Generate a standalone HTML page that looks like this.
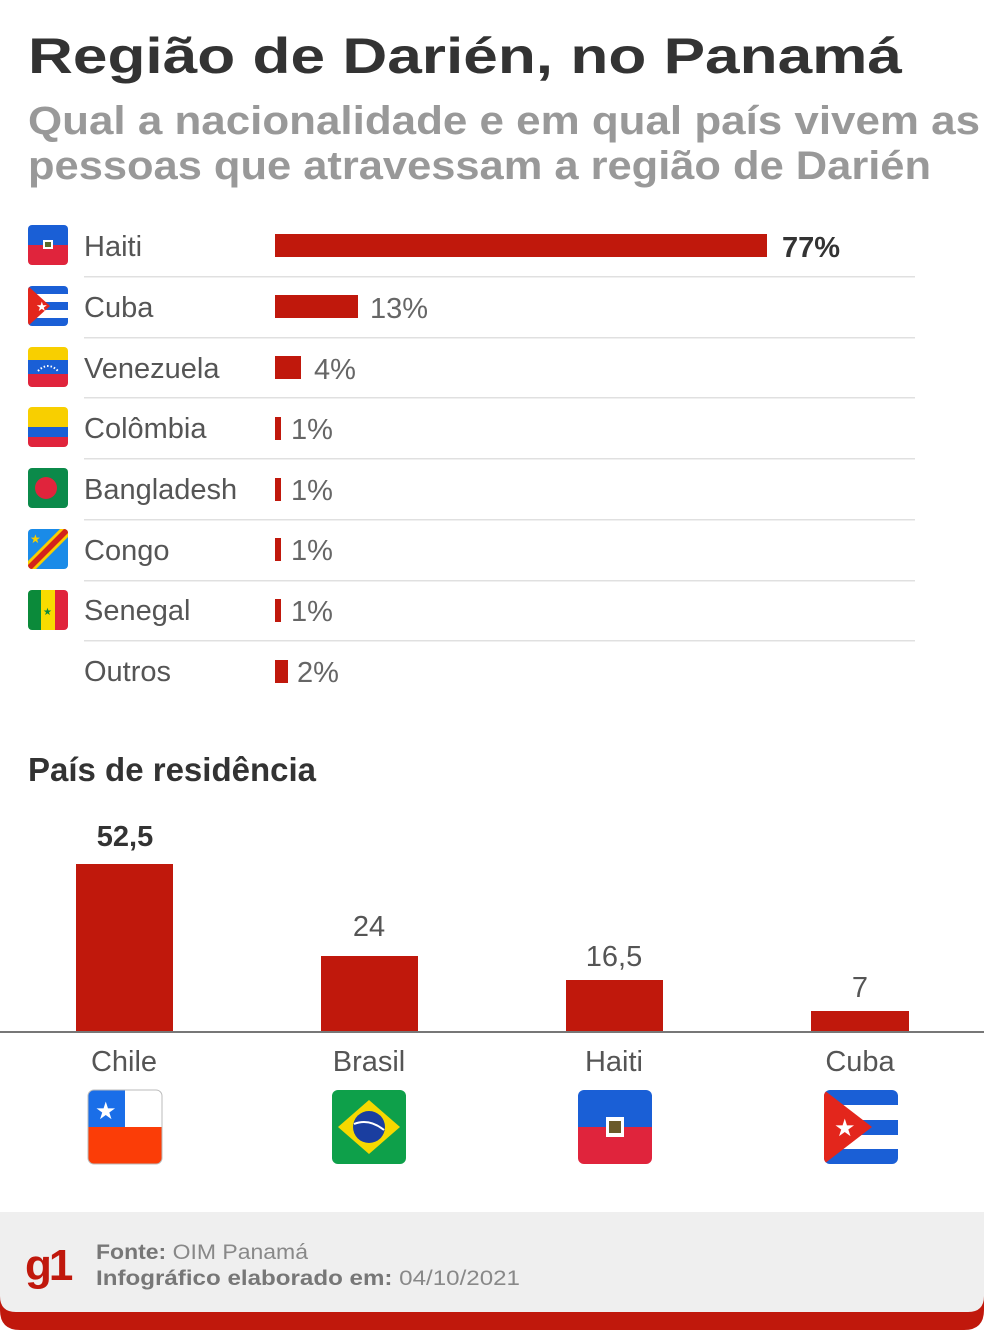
<!DOCTYPE html>
<html><head><meta charset="utf-8"><style>
html,body{margin:0;padding:0;background:#fff;}
svg{display:block;}
text{font-family:"Liberation Sans","DejaVu Sans",sans-serif;}
</style></head><body>
<svg width="984" height="1340" viewBox="0 0 984 1340" xmlns="http://www.w3.org/2000/svg">
<defs>
<clipPath id="fc"><rect x="0" y="0" width="40" height="40" rx="4"/></clipPath>
<clipPath id="bc"><rect x="0" y="0" width="74" height="74" rx="6"/></clipPath>
<g id="haiti"><g clip-path="url(#fc)"><rect width="40" height="20" fill="#1a5fd6"/><rect y="20" width="40" height="20" fill="#e0243c"/><rect x="15" y="15" width="10" height="9" fill="#fff"/><rect x="17" y="17" width="6" height="5" fill="#5a6b2a"/></g></g>
<g id="cuba"><g clip-path="url(#fc)"><rect width="40" height="40" fill="#fff"/><rect width="40" height="8" fill="#1a5fd6"/><rect y="16" width="40" height="8" fill="#1a5fd6"/><rect y="32" width="40" height="8" fill="#1a5fd6"/><polygon points="0,0 22,20 0,40" fill="#e3261c"/><text x="8" y="25" font-size="13" fill="#fff">★</text></g></g>
<g id="ven"><g clip-path="url(#fc)"><rect width="40" height="14" fill="#f8cf00"/><rect y="13" width="40" height="14" fill="#1a5fd6"/><rect y="27" width="40" height="13" fill="#e0243c"/><path d="M10 24 Q20 14 30 24" fill="none" stroke="#fff" stroke-width="2" stroke-dasharray="1.5 2"/></g></g>
<g id="col"><g clip-path="url(#fc)"><rect width="40" height="20" fill="#f8cf00"/><rect y="20" width="40" height="10" fill="#1a5fd6"/><rect y="30" width="40" height="10" fill="#e0243c"/></g></g>
<g id="ban"><g clip-path="url(#fc)"><rect width="40" height="40" fill="#0b8a4a"/><circle cx="18" cy="20" r="11" fill="#e0243c"/></g></g>
<g id="congo"><g clip-path="url(#fc)"><rect width="40" height="40" fill="#1a8be8"/><polygon points="0,40 0,32 32,0 40,0 40,8 8,40" fill="#f8cf00"/><polygon points="0,40 0,36 36,0 40,0 40,4 4,40" fill="#d3231c"/><text x="2" y="14" font-size="12" fill="#f8cf00">★</text></g></g>
<g id="sen"><g clip-path="url(#fc)"><rect width="14" height="40" fill="#0b8a3a"/><rect x="13" width="14" height="40" fill="#f8dc00"/><rect x="27" width="13" height="40" fill="#e0243c"/><text x="15" y="25" font-size="10" fill="#0b8a3a">★</text></g></g>
</defs>

<text x="28" y="73" font-size="50" font-weight="bold" fill="#333" textLength="874" lengthAdjust="spacingAndGlyphs">Região de Darién, no Panamá</text>
<text x="28" y="134" font-size="40" font-weight="bold" fill="#999" textLength="952" lengthAdjust="spacingAndGlyphs">Qual a nacionalidade e em qual país vivem as</text>
<text x="28" y="179" font-size="40" font-weight="bold" fill="#999" textLength="903" lengthAdjust="spacingAndGlyphs">pessoas que atravessam a região de Darién</text>

<g fill="#e0e0e0">
<rect x="84" y="276" width="831" height="1.5"/><rect x="84" y="337" width="831" height="1.5"/><rect x="84" y="397" width="831" height="1.5"/><rect x="84" y="458" width="831" height="1.5"/><rect x="84" y="519" width="831" height="1.5"/><rect x="84" y="580" width="831" height="1.5"/><rect x="84" y="640" width="831" height="1.5"/>
</g>

<use href="#haiti" x="28" y="225"/>
<use href="#cuba" x="28" y="286"/>
<use href="#ven" x="28" y="347"/>
<use href="#col" x="28" y="407"/>
<use href="#ban" x="28" y="468"/>
<use href="#congo" x="28" y="529"/>
<use href="#sen" x="28" y="590"/>

<g font-size="29" fill="#555">
<text x="84" y="256">Haiti</text>
<text x="84" y="317">Cuba</text>
<text x="84" y="378">Venezuela</text>
<text x="84" y="438">Colômbia</text>
<text x="84" y="499">Bangladesh</text>
<text x="84" y="560">Congo</text>
<text x="84" y="620">Senegal</text>
<text x="84" y="681">Outros</text>
</g>
<g fill="#c0180c">
<rect x="275" y="234" width="492" height="23"/>
<rect x="275" y="295" width="83" height="23"/>
<rect x="275" y="356" width="26" height="23"/>
<rect x="275" y="417" width="6" height="23"/>
<rect x="275" y="478" width="6" height="23"/>
<rect x="275" y="538" width="6" height="23"/>
<rect x="275" y="599" width="6" height="23"/>
<rect x="275" y="660" width="13" height="23"/>
</g>
<text x="782" y="257" font-size="29" font-weight="bold" fill="#333">77%</text>
<g font-size="29" fill="#666">
<text x="370" y="318">13%</text>
<text x="314" y="379">4%</text>
<text x="291" y="439">1%</text>
<text x="291" y="500">1%</text>
<text x="291" y="560">1%</text>
<text x="291" y="621">1%</text>
<text x="297" y="682">2%</text>
</g>

<text x="28" y="781" font-size="33" font-weight="bold" fill="#333">País de residência</text>

<g fill="#c0180c">
<rect x="76" y="864" width="97" height="168"/>
<rect x="321" y="956" width="97" height="76"/>
<rect x="566" y="980" width="97" height="52"/>
<rect x="811" y="1011" width="98" height="21"/>
</g>
<rect x="0" y="1031" width="984" height="2" fill="#777"/>
<text x="125" y="846" font-size="29" font-weight="bold" fill="#333" text-anchor="middle">52,5</text>
<g font-size="29" fill="#555" text-anchor="middle">
<text x="369" y="936">24</text>
<text x="614" y="966">16,5</text>
<text x="860" y="997">7</text>
<text x="124" y="1071">Chile</text>
<text x="369" y="1071">Brasil</text>
<text x="614" y="1071">Haiti</text>
<text x="860" y="1071">Cuba</text>
</g>

<g transform="translate(88,1090)"><g clip-path="url(#bc)"><rect width="74" height="74" fill="#fff"/><rect width="37" height="37" fill="#1a6ee8"/><rect y="37" width="74" height="37" fill="#fb3d07"/><text x="7" y="29" font-size="24" fill="#fff">★</text></g><rect width="74" height="74" rx="6" fill="none" stroke="#bbb"/></g>
<g transform="translate(332,1090)"><g clip-path="url(#bc)"><rect width="74" height="74" fill="#0ea04a"/><polygon points="37,10 68,37 37,64 6,37" fill="#f6d800"/><circle cx="37" cy="37" r="16" fill="#1a3ea0"/><path d="M22 34 Q37 28 52 40" stroke="#fff" stroke-width="2" fill="none"/></g></g>
<g transform="translate(578,1090)"><g clip-path="url(#bc)"><rect width="74" height="37" fill="#1a5fd6"/><rect y="37" width="74" height="37" fill="#e0243c"/><rect x="28" y="27" width="18" height="20" fill="#fff"/><rect x="31" y="31" width="12" height="12" fill="#6a5a2a"/></g></g>
<g transform="translate(824,1090)"><g clip-path="url(#bc)"><rect width="74" height="74" fill="#fff"/><rect width="74" height="15" fill="#1a5fd6"/><rect y="30" width="74" height="15" fill="#1a5fd6"/><rect y="59" width="74" height="15" fill="#1a5fd6"/><polygon points="0,0 48,37 0,74" fill="#e3261c"/><text x="10" y="46" font-size="24" fill="#fff">★</text></g></g>

<path d="M0 1290 H984 V1310 Q984 1330 964 1330 H20 Q0 1330 0 1310 Z" fill="#c0180c"/>
<path d="M0 1212 H984 V1296 Q984 1312 968 1312 H16 Q0 1312 0 1296 Z" fill="#efefef"/>
<text x="25" y="1280" font-size="44" font-weight="bold" fill="#c0180c" letter-spacing="-3">g1</text>
<text x="96" y="1259" font-size="21" fill="#888" textLength="212" lengthAdjust="spacingAndGlyphs"><tspan font-weight="bold" fill="#777">Fonte:</tspan> OIM Panamá</text>
<text x="96" y="1285" font-size="21" fill="#888" textLength="424" lengthAdjust="spacingAndGlyphs"><tspan font-weight="bold" fill="#777">Infográfico elaborado em:</tspan> 04/10/2021</text>
</svg>
</body></html>
